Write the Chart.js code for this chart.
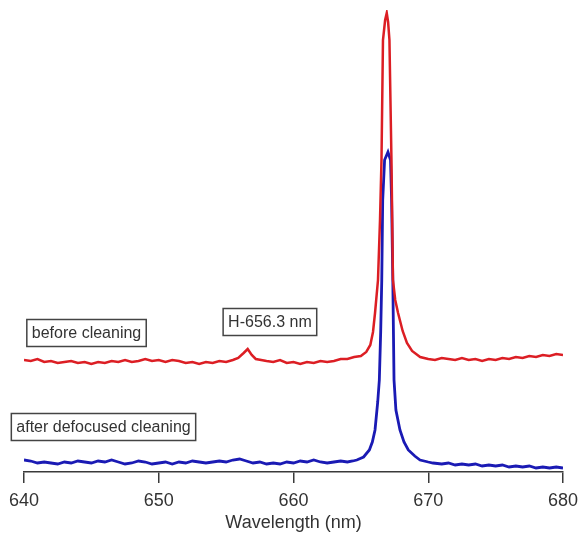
<!DOCTYPE html>
<html>
<head>
<meta charset="utf-8">
<script src="https://cdn.jsdelivr.net/npm/chart.js@4"></script>
<style>
  html, body { margin: 0; padding: 0; background: #fff; }
  #wrap { width: 578px; height: 534px; }
</style>
</head>
<body>
<div id="wrap"><canvas id="spec" width="578" height="534"></canvas></div>
<script>
// before cleaning (red) – wavelength nm / intensity (arb.)
const redWl = [
  640, 640.5, 641, 641.5, 642, 642.5, 643, 643.5, 644, 644.5, 645, 645.5, 646, 646.5, 647, 647.5,
  648, 648.5, 649, 649.5, 650, 650.5, 651, 651.5, 652, 652.5, 653, 653.5, 654, 654.5, 655, 655.5,
  655.9, 656.3, 656.6, 656.9, 657.2, 657.6, 658, 658.5, 659, 659.5, 660, 660.5, 661, 661.5, 662, 662.5,
  663, 663.5, 664, 664.5, 665, 665.4, 665.7, 665.9, 666.05, 666.27, 666.42, 666.53, 666.64, 666.8, 666.92,
  667.02, 667.12, 667.27, 667.38, 667.55, 667.76, 668.1, 668.42, 668.8, 669.4, 670, 670.5, 671, 671.5,
  672, 672.5, 673, 673.5, 674, 674.5, 675, 675.5, 676, 676.5, 677, 677.5, 678, 678.5, 679, 679.5, 680,
]
const redInt = [
  112, 111, 113, 110, 111, 109, 110, 111, 109, 110, 108, 110, 109, 111, 110, 112,
  110, 111, 113, 111, 112, 110, 112, 111, 109, 110, 108, 110, 109, 111, 110, 112,
  114, 119, 123, 117, 113, 112, 111, 110, 112, 109, 110, 108, 110, 109, 111, 110,
  111, 113, 113, 115, 116, 120, 127, 140, 159, 192, 252, 312, 432, 452, 459,
  450, 432, 312, 192, 172, 159, 141, 129, 121, 115, 113, 112, 114, 113,
  112, 114, 112, 113, 111, 113, 112, 114, 113, 115, 114, 116, 115, 117, 116, 118, 117,
]

// after defocused cleaning (blue)
const blueWl = [
  640, 640.5, 641, 641.5, 642, 642.5, 643, 643.5, 644, 644.5, 645, 645.5, 646, 646.5, 647, 647.5,
  648, 648.5, 649, 649.5, 650, 650.5, 651, 651.5, 652, 652.5, 653, 653.5, 654, 654.5, 655, 655.5,
  656, 656.5, 657, 657.5, 658, 658.5, 659, 659.5, 660, 660.5, 661, 661.5, 662, 662.5, 663, 663.5,
  664, 664.4, 664.7, 665.2, 665.63, 665.85, 666.05, 666.25, 666.37, 666.47, 666.55, 666.62, 666.76,
  667.01, 667.2, 667.28, 667.37, 667.46, 667.6, 667.9, 668.2, 668.52, 669, 669.39, 670, 670.35,
  671, 671.5, 672, 672.5, 673, 673.5, 674, 674.5, 675, 675.5, 676, 676.5, 677, 677.5, 678, 678.5, 679, 679.5, 680,
]
const blueInt = [
  12, 11, 9, 10, 9, 8, 10, 9, 11, 10, 9, 11, 10, 12, 10, 8,
  9, 11, 10, 8, 9, 10, 8, 10, 9, 11, 10, 9, 10, 11, 10, 12,
  13, 11, 9, 10, 8, 9, 8, 10, 9, 11, 10, 12, 10, 9, 10, 11,
  10, 11, 12, 15, 22, 30, 42, 70, 92, 140, 192, 272, 312,
  320, 312, 272, 192, 92, 62, 42, 30, 22, 16, 12, 10, 9,
  8, 9, 7, 8, 7, 8, 6, 7, 6, 7, 5, 6, 5, 6, 4, 5, 4, 5, 4,
]

const xTicks = [640, 650, 660, 670, 680]

// boxed labels, centres in data units
const labelText = ["before cleaning", "H-656.3 nm", "after defocused cleaning"]
const labelWl = [644.64, 658.25, 645.9]
const labelInt = [139, 150, 45]

const axisColor = "#3a3a3a"
const fontFamily = "'Liberation Sans', Arial, sans-serif"

function toPoints(xs, ys) {
  return xs.map((x, i) => ({ x, y: ys[i] }))
}

const boxLabels = {
  id: "boxLabels",
  afterDraw(chart) {
    const { ctx, scales } = chart
    ctx.save()
    ctx.font = "16px " + fontFamily
    ctx.textAlign = "center"
    ctx.textBaseline = "middle"
    labelText.forEach((t, i) => {
      const cx = scales.x.getPixelForValue(labelWl[i])
      const cy = scales.y.getPixelForValue(labelInt[i])
      const w = ctx.measureText(t).width + 10
      const h = 27
      ctx.fillStyle = "#fff"
      ctx.fillRect(cx - w / 2, cy - h / 2, w, h)
      ctx.strokeStyle = "#444"
      ctx.lineWidth = 1.5
      ctx.strokeRect(cx - w / 2, cy - h / 2, w, h)
      ctx.fillStyle = "#333"
      ctx.fillText(t, cx, cy + 1)
    })
    ctx.restore()
  },
}

new Chart(document.getElementById("spec"), {
  type: "line",
  data: {
    datasets: [
      {
        label: "before cleaning",
        data: toPoints(redWl, redInt),
        borderColor: "#dc1e24",
        borderWidth: 2.5,
        pointRadius: 0,
        tension: 0,
        fill: false,
      },
      {
        label: "after defocused cleaning",
        data: toPoints(blueWl, blueInt),
        borderColor: "#1a1ab4",
        borderWidth: 2.8,
        pointRadius: 0,
        tension: 0,
        fill: false,
      },
    ],
  },
  options: {
    responsive: false,
    animation: false,
    layout: { padding: { left: 24, right: 15, top: 10, bottom: 0 } },
    plugins: { legend: { display: false }, tooltip: { enabled: false } },
    scales: {
      x: {
        type: "linear",
        min: 640,
        max: 680,
        afterBuildTicks: (axis) => {
          axis.ticks = xTicks.map((v) => ({ value: v }))
        },
        afterFit: (axis) => {
          // fixed axis band so the plot area ends at the reference baseline
          axis.height = 62
          axis.paddingLeft = 0
          axis.paddingRight = 0
        },
        ticks: { color: "#333", font: { family: fontFamily, size: 18, lineHeight: 1 }, padding: 9, maxRotation: 0 },
        grid: { drawOnChartArea: false, drawTicks: true, tickLength: 11, color: axisColor, lineWidth: 1.5 },
        border: { display: true, color: axisColor, width: 1.5 },
        title: {
          display: true,
          text: "Wavelength (nm)",
          color: "#333",
          font: { family: fontFamily, size: 18 },
          padding: { top: 0, bottom: 0 },
        },
      },
      y: { display: false, min: 0, max: 462 },
    },
  },
  plugins: [boxLabels],
})
</script>
</body>
</html>
